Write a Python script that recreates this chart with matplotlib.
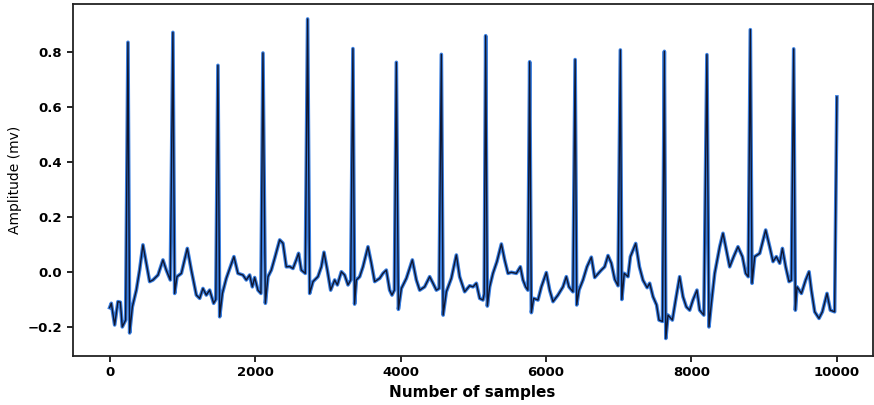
import numpy as np
import matplotlib
matplotlib.use("Agg")
import matplotlib.pyplot as plt

# R-peak positions (sample index) and heights (mV)
r_samples = [252, 870, 1489, 2108, 2722, 3345, 3942, 4561, 5170, 5775,
             6400, 7022, 7627, 8212, 8809, 9405, 9999]
r_heights = [0.837, 0.873, 0.753, 0.798, 0.922, 0.814, 0.764, 0.793, 0.861, 0.766,
             0.774, 0.809, 0.804, 0.792, 0.883, 0.813, 0.638]

# Rest of the trace (baseline, S dips, T waves)
base_samples = [
    0, 23, 69, 114, 147, 174, 220,
    275, 312, 367, 412, 458, 504, 550, 596, 665, 733, 779, 834,
    894, 926, 986, 1068, 1123, 1192, 1238, 1283, 1329, 1375, 1430, 1460,
    1513, 1550, 1604, 1709, 1764, 1833, 1879, 1925, 1962, 1994, 2039, 2080,
    2141, 2177, 2223, 2269, 2338, 2383, 2429, 2475, 2521, 2566, 2598, 2635, 2690,
    2750, 2796, 2864, 2911, 2947, 2993, 3039, 3094, 3131, 3186, 3231, 3277, 3315,
    3368, 3392, 3438, 3483, 3552, 3598, 3644, 3713, 3758, 3804, 3850, 3882, 3915,
    3970, 4011, 4080, 4162, 4217, 4263, 4331, 4400, 4446, 4492, 4530,
    4585, 4629, 4698, 4767, 4812, 4881, 4950, 4996, 5042, 5088, 5133, 5150,
    5193, 5225, 5270, 5325, 5386, 5431, 5477, 5523, 5592, 5647, 5683, 5720, 5750,
    5798, 5830, 5889, 5936, 6004, 6050, 6096, 6164, 6233, 6279, 6315, 6370,
    6422, 6453, 6508, 6563, 6623, 6669, 6760, 6806, 6852, 6898, 6944, 6990,
    7042, 7075, 7127, 7160, 7233, 7284, 7333, 7390, 7425, 7471, 7520, 7553, 7601,
    7647, 7677, 7737, 7782, 7837, 7883, 7929, 7975, 8020, 8075, 8112, 8170,
    8240, 8273, 8319, 8388, 8433, 8488, 8525, 8580, 8639, 8700, 8745, 8780,
    8832, 8869, 8938, 9020, 9075, 9121, 9167, 9213, 9250, 9295, 9341, 9373,
    9428, 9451, 9511, 9570, 9616, 9648, 9694, 9753, 9799, 9863, 9909, 9968,
]
base_values = [
    -0.130, -0.114, -0.193, -0.108, -0.110, -0.200, -0.175,
    -0.222, -0.127, -0.066, 0.007, 0.099, 0.032, -0.035, -0.029, -0.011, 0.044, 0.007, -0.029,
    -0.078, -0.017, -0.005, 0.086, 0.007, -0.084, -0.096, -0.060, -0.084, -0.066, -0.114, -0.100,
    -0.163, -0.078, -0.023, 0.056, -0.005, -0.011, -0.029, -0.011, -0.054, -0.020, -0.066, -0.078,
    -0.114, -0.017, 0.007, 0.050, 0.117, 0.105, 0.019, 0.020, 0.013, 0.044, 0.068, 0.007, -0.005,
    -0.078, -0.035, -0.017, 0.019, 0.072, 0.007, -0.066, -0.029, -0.047, 0.001, -0.011, -0.047, -0.029,
    -0.117, -0.029, -0.017, 0.019, 0.092, 0.032, -0.035, -0.023, -0.005, 0.007, -0.066, -0.084, -0.066,
    -0.136, -0.060, -0.023, 0.044, -0.029, -0.066, -0.054, -0.017, -0.041, -0.066, -0.060,
    -0.157, -0.072, -0.023, 0.062, -0.017, -0.072, -0.050, -0.054, -0.041, -0.096, -0.102, -0.080,
    -0.124, -0.054, -0.005, 0.038, 0.102, 0.044, -0.005, -0.001, -0.005, 0.019, -0.029, -0.054, -0.066,
    -0.148, -0.096, -0.102, -0.054, -0.002, -0.066, -0.108, -0.084, -0.054, -0.017, -0.054, -0.072,
    -0.120, -0.066, -0.029, 0.019, 0.054, -0.020, 0.007, 0.019, 0.060, 0.032, -0.026, -0.050,
    -0.100, -0.005, -0.017, 0.056, 0.104, 0.019, -0.030, -0.057, -0.041, -0.090, -0.120, -0.175, -0.180,
    -0.242, -0.157, -0.175, -0.102, -0.017, -0.090, -0.127, -0.139, -0.102, -0.066, -0.139, -0.157,
    -0.200, -0.114, -0.005, 0.092, 0.141, 0.068, 0.019, 0.056, 0.092, 0.056, -0.005, -0.017,
    -0.041, 0.056, 0.068, 0.153, 0.092, 0.038, 0.056, 0.032, 0.086, 0.019, -0.035, -0.030,
    -0.139, -0.054, -0.078, -0.029, 0.001, -0.066, -0.145, -0.169, -0.145, -0.078, -0.139, -0.145,
]

# merge peaks and baseline into one trace, ordered by sample
samples = np.array(base_samples + r_samples)
values = np.array(base_values + r_heights)
order = np.argsort(samples)
samples = samples[order]
values = values[order]

fig = plt.figure(figsize=(8.74, 4.05), dpi=100)
ax = fig.add_axes([0.083, 0.121, 0.9154, 0.8688])

# blue signal underneath, dark trace on top
ax.plot(samples, values, color="#3a7fe0", linewidth=2.6)
ax.plot(samples, values, color="#0f1630", linewidth=1.0)

ax.set_xlim(-510, 10490)
ax.set_ylim(-0.306, 0.976)
ax.set_xticks([0, 2000, 4000, 6000, 8000, 10000])
ax.set_yticks([-0.2, 0.0, 0.2, 0.4, 0.6, 0.8])

ax.set_xlabel("Number of samples", fontsize=11, fontweight="bold")
ax.set_ylabel("Amplitude (mv)", fontsize=10)
ax.tick_params(labelsize=9.5, width=1.2, length=4)
for lbl in ax.get_xticklabels() + ax.get_yticklabels():
    lbl.set_fontweight("semibold")
for sp in ax.spines.values():
    sp.set_linewidth(1.3)
    sp.set_color("#222222")

fig.savefig("out.png", dpi=100)
